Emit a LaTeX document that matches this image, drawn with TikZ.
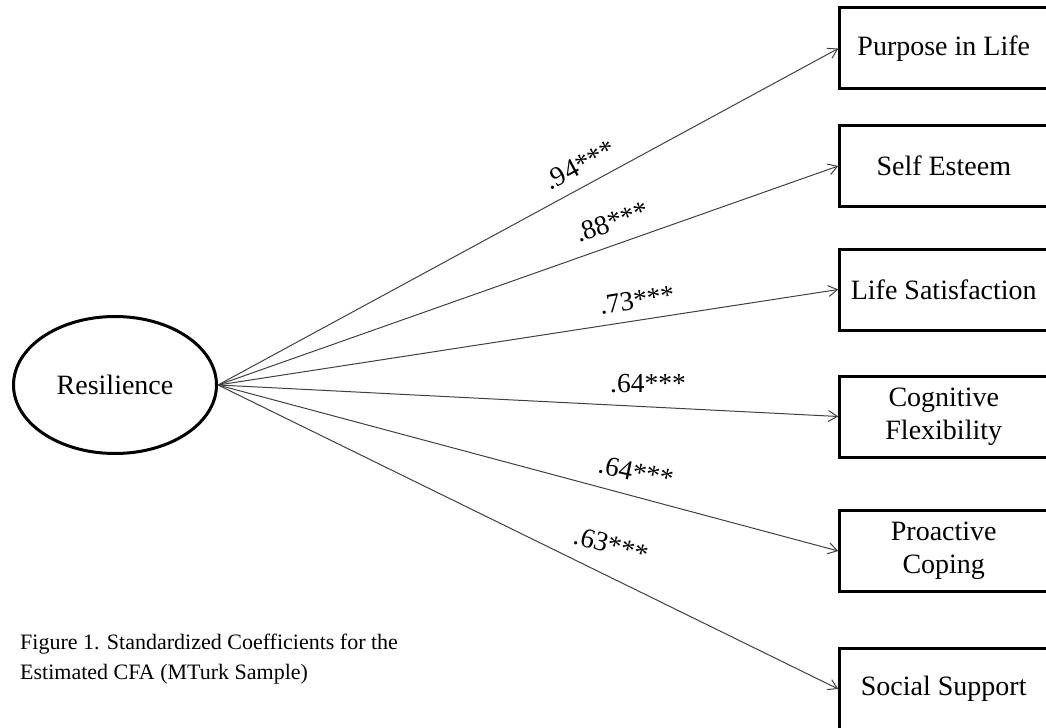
\documentclass[tikz,border=0pt]{standalone}
\usepackage{fontspec}
\setmainfont{Liberation Serif}
\usepackage{tikz}
\usetikzlibrary{arrows.meta,shapes.geometric,positioning}

\begin{document}
\begin{tikzpicture}[x=1bp,y=-1bp,
    latent/.style={draw, line width=3bp, ellipse, inner sep=0pt, minimum width=203bp, minimum height=137bp, font=\fontsize{28bp}{32bp}\selectfont},
    indicator/.style={draw, line width=3bp, rectangle, inner sep=0pt, minimum width=208bp, minimum height=81bp, align=center, font=\fontsize{28bp}{33bp}\selectfont},
    loading/.style={draw=black!75, line width=1bp, -{Straight Barb[length=9bp,width=11bp]}},
    coef/.style={inner sep=0pt, font=\fontsize{27.5bp}{30bp}\selectfont}]
    \useasboundingbox (0,0) rectangle (1046,728);
    % latent factor
    \node[latent] (res) at (115,385) {Resilience};
    % indicators with standardized loadings
    \foreach \i/\y/\txt/\coefval/\lx/\ly/\rot in {
        1/48.5/{Purpose in Life}/.94/580/165/28,
        2/166/{Self Esteem}/.88/612/222/19,
        3/289.5/{Life Satisfaction}/.73/637/300/9,
        4/416.5/{Cognitive\\Flexibility}/.64/648/384/0,
        5/551/{Proactive\\Coping}/.64/636/472/-12,
        6/689/{Social Support}/.63/611/545/-16} {
        \node[indicator] (ind\i) at (943.75,\y) {\txt};
        \draw[loading] (res.east) -- (ind\i.west);
        \node[coef, rotate=\rot] (load\i) at (\lx,\ly) {\coefval***};
    }
    % caption
    \node[anchor=north west, inner sep=0pt, align=left, font=\fontsize{22bp}{30bp}\selectfont] (caption) at (20,634)
        {Figure 1. Standardized Coefficients for the\\Estimated CFA (MTurk Sample)};
\end{tikzpicture}
\end{document}
